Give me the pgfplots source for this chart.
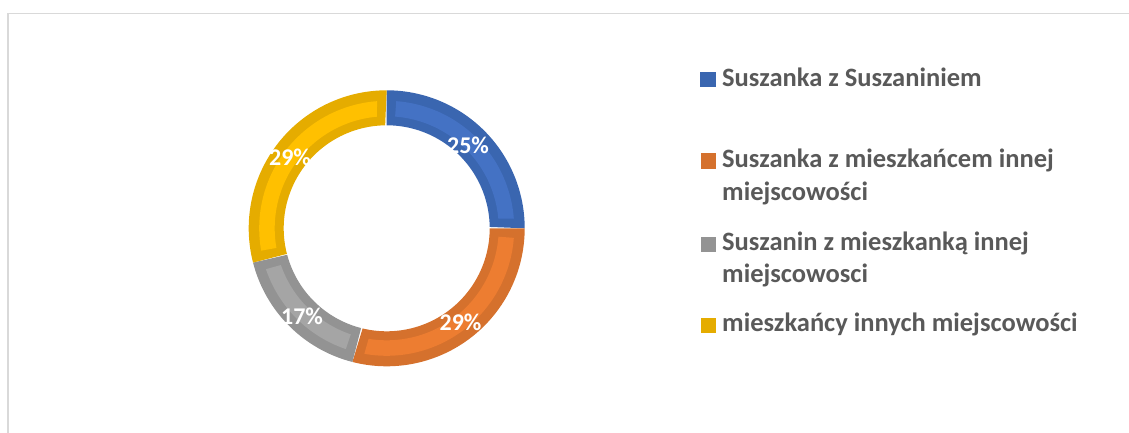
\documentclass[border=0pt]{standalone}
\usepackage{pgfplots}
\pgfplotsset{compat=1.18}
\usepackage{pgfplotstable}
\usepackage{fontspec}
\setmainfont{Carlito}
\definecolor{blueD}{HTML}{3A66B0}
\definecolor{blueL}{HTML}{4472C4}
\definecolor{oranD}{HTML}{D5712D}
\definecolor{oranL}{HTML}{ED7D31}
\definecolor{grayD}{HTML}{939393}
\definecolor{grayL}{HTML}{A5A5A5}
\definecolor{yellD}{HTML}{E5AC00}
\definecolor{yellL}{HTML}{FFC000}
\definecolor{legtext}{HTML}{595959}
\definecolor{framec}{HTML}{D9D9D9}

\pgfplotstableread{
id value
1 25
2 29
3 17
4 29
}\donutdata

\newcommand\sector[5]{%
 \addplot[fill=#1, draw=none, domain=0:2, samples=241, variable=\t]
 ({\cx+((\t<1)?(#5):(#4))*cos((\t<1)?((#2)+((#3)-(#2))*\t):((#3)-((#3)-(#2))*(\t-1)))},
  {\cy+((\t<1)?(#5):(#4))*sin((\t<1)?((#2)+((#3)-(#2))*\t):((#3)-((#3)-(#2))*(\t-1)))});
}

\begin{document}
\begin{tikzpicture}
\pgfplotstablegetelem{0}{value}\of\donutdata \edef\va{\pgfplotsretval}
\pgfplotstablegetelem{1}{value}\of\donutdata \edef\vb{\pgfplotsretval}
\pgfplotstablegetelem{2}{value}\of\donutdata \edef\vc{\pgfplotsretval}
\pgfplotstablegetelem{3}{value}\of\donutdata \edef\vd{\pgfplotsretval}
\pgfmathsetmacro\aA{90}
\pgfmathsetmacro\aB{90-3.6*\va}
\pgfmathsetmacro\aC{\aB-3.6*\vb}
\pgfmathsetmacro\aD{\aC-3.6*\vc}
\pgfmathsetmacro\aE{\aD-3.6*\vd}
\def\cx{386.7}
\def\cy{204.7}
\def\ri{103}
\def\ro{138}
\def\li{112}
\def\lo{127.5}
\def\ins{4.3}
\begin{axis}[scale only axis, width=1129bp, height=433bp, at={(0,0)}, anchor=south west,
  xmin=0, xmax=1129, ymin=0, ymax=433, hide axis, clip=false]
% frame
\draw[framec, line width=1.5bp] (axis cs:8,0) -- (axis cs:8,419.5) -- (axis cs:1129,419.5);
% donut
\sector{blueD}{\aA}{\aB}{\ri}{\ro}
\sector{blueL}{\aA-\ins}{\aB+\ins}{\li}{\lo}
\sector{oranD}{\aB}{\aC}{\ri}{\ro}
\sector{oranL}{\aB-\ins}{\aC+\ins}{\li}{\lo}
\sector{grayD}{\aC}{\aD}{\ri}{\ro}
\sector{grayL}{\aC-\ins}{\aD+\ins}{\li}{\lo}
\sector{yellD}{\aD}{\aE}{\ri}{\ro}
\sector{yellL}{\aD-\ins}{\aE+\ins}{\li}{\lo}
% labels
\begin{scope}[every node/.style={text=white, font=\fontsize{24bp}{27bp}\selectfont\bfseries, inner sep=0pt}]
\node at (axis cs:468,288) {25\%};
\node at (axis cs:460.5,110.5) {29\%};
\node at (axis cs:302,116.5) {17\%};
\node at (axis cs:290,275.5) {29\%};
\end{scope}
% legend
\fill[blueD] (axis cs:700,433-87.3) rectangle (axis cs:716,433-71.7);
\fill[oranD] (axis cs:701,433-169) rectangle (axis cs:716,433-153);
\fill[grayD] (axis cs:701,433-252) rectangle (axis cs:716,433-237);
\fill[yellD] (axis cs:701,433-333) rectangle (axis cs:716,433-318);
\begin{scope}[every node/.style={text=legtext, font=\fontsize{26.5bp}{30bp}\selectfont\bfseries, inner sep=0pt, anchor=base west}]
\node at (axis cs:722,433-87) {Suszanka z Suszaniniem};
\node at (axis cs:722,433-168) {Suszanka z mieszkańcem innej};
\node at (axis cs:722,433-201) {miejscowości};
\node at (axis cs:722,433-251) {Suszanin z mieszkanką innej};
\node at (axis cs:722,433-283) {miejscowosci};
\node at (axis cs:722,433-332) {mieszkańcy innych miejscowości};
\end{scope}
\end{axis}
\pgfresetboundingbox
\path (0,0) rectangle (1129bp,433bp);
\end{tikzpicture}
\end{document}
